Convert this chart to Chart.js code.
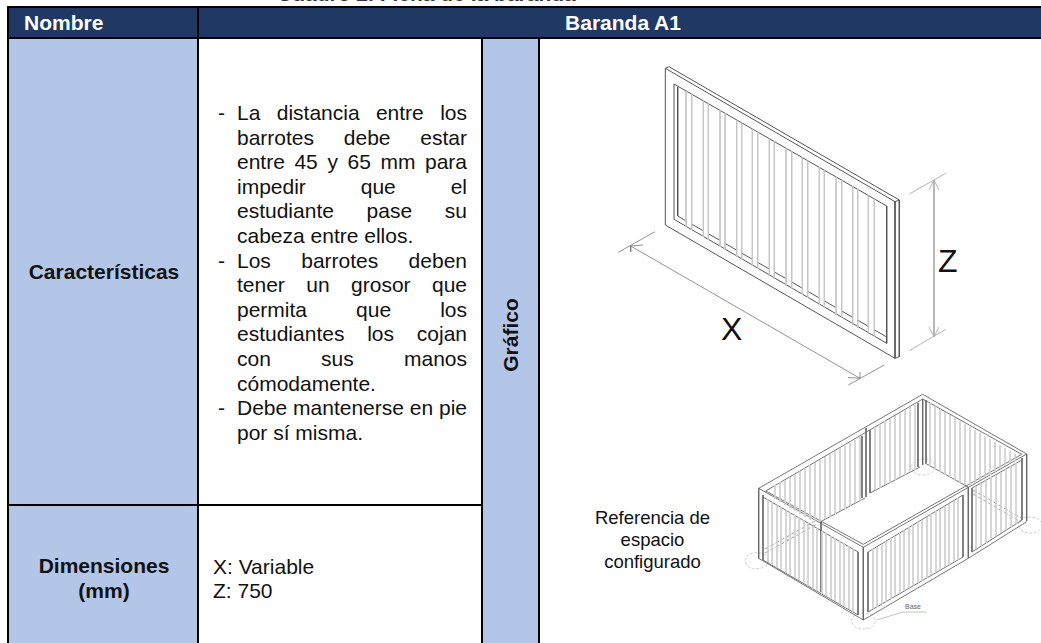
<!DOCTYPE html>
<html lang="es">
<head>
<meta charset="utf-8">
<title>Baranda A1</title>
<script src="https://cdn.jsdelivr.net/npm/chart.js@4"></script>
<style>
  html, body { margin: 0; padding: 0; background: #fff; }
  body { width: 1041px; height: 643px; overflow: hidden; position: relative; font-family: "Liberation Sans", Arial, sans-serif; color: #111; }
  .cell { position: absolute; box-sizing: border-box; }
  .navy { background: #1f3864; }
  .blue { background: #b4c6e7; }
  .rule { position: absolute; background: #000; }
  .line { position: absolute; left: 237px; width: 230px; font-size: 21px; line-height: 24px; text-align: justify; text-align-last: justify; white-space: nowrap; }
  .line.last { text-align-last: left; }
  .dash { position: absolute; left: 218px; font-size: 21px; line-height: 24px; }
  .label { position: absolute; white-space: nowrap; }
  #wrap { position: absolute; left: 0; top: 0; width: 1041px; height: 643px; pointer-events: none; }
</style>
</head>
<body>
<div class="label" style="left:277px;top:-18px;font-size:21px;line-height:24px;font-weight:bold;color:#333">Cuadro 2. Ficha de la baranda</div>

<div class="cell navy" style="left:8px;top:7px;width:1033px;height:31px"></div>
<div class="cell blue" style="left:8px;top:38px;width:190px;height:605px"></div>
<div class="cell blue" style="left:482px;top:38px;width:57px;height:605px"></div>

<div class="rule" style="left:7px;top:6px;width:1034px;height:2px"></div>
<div class="rule" style="left:7px;top:37px;width:1034px;height:2px"></div>
<div class="rule" style="left:7px;top:6px;width:2px;height:637px"></div>
<div class="rule" style="left:197px;top:6px;width:2px;height:637px"></div>
<div class="rule" style="left:481px;top:37px;width:2px;height:606px"></div>
<div class="rule" style="left:538px;top:37px;width:2px;height:606px"></div>
<div class="rule" style="left:7px;top:504px;width:475px;height:2px"></div>

<div class="label" style="left:24px;top:11px;font-size:21px;line-height:24px;font-weight:bold;color:#fff">Nombre</div>
<div class="label" style="left:199px;width:848px;text-align:center;top:11px;font-size:21px;line-height:24px;font-weight:bold;color:#fff">Baranda A1</div>
<div class="label" style="left:9px;width:190px;text-align:center;top:260px;font-size:21px;line-height:24px;font-weight:bold">Características</div>
<div class="label" style="left:9px;width:190px;text-align:center;top:554px;font-size:21px;font-weight:bold;line-height:24.6px;white-space:normal">Dimensiones<br>(mm)</div>
<div class="label" style="left:511px;top:335px;font-size:21px;font-weight:bold;transform:translate(-50%,-50%) rotate(-90deg)">Gráfico</div>

<div id="bodyText"></div>

<div class="label" style="left:213px;top:555px;font-size:21px;line-height:24px">X: Variable<br>Z: 750</div>

<div class="label" style="left:590px;width:125px;text-align:center;top:507px;font-size:18.5px;line-height:22px">Referencia de<br>espacio<br>configurado</div>
<div class="label" style="left:721px;top:311px;font-size:32px;line-height:36px">X</div>
<div class="label" style="left:938px;top:243px;font-size:32px;line-height:36px">Z</div>
<div class="label" style="left:905px;top:603px;font-size:7px;line-height:8px;color:#666">Base</div>

<div id="wrap"><canvas id="drawing"></canvas></div>

<script>
// Text of the characteristics cell, one entry per printed line
const bodyLines = [
  "La distancia entre los", "barrotes debe estar", "entre 45 y 65 mm para", "impedir que el",
  "estudiante pase su", "cabeza entre ellos.", "Los barrotes deben", "tener un grosor que",
  "permita que los", "estudiantes los cojan", "con sus manos", "cómodamente.",
  "Debe mantenerse en pie", "por sí misma."
];
const bodyLineY = [101, 125.6, 150.2, 174.8, 199.4, 224, 248.6, 273.2, 297.8, 322.4, 347, 371.6, 396.2, 420.8];
const lastLines = [5, 11, 13];
const dashLines = [0, 6, 12];

// Panel A1, reading the drawing in reference units (x right, y down)
const panelOutline = [
  [[665.3,68.3],[895,201.7],[895,358.3],[665.3,225],[665.3,68.3]],
  [[665.3,68.3],[669,66.7],[899.3,200],[899.3,356.7],[895,358.3]],
  [[895,201.7],[899.3,200]],
  [[674,84],[886.7,206],[886.7,343.3],[674,219.3],[674,84]],
  [[677.7,87],[677.7,216]],
  [[677.7,216],[686,220.8]], [[691.7,224.1],[703.3,230.8]], [[708.3,233.7],[720,240.5]],
  [[725,243.4],[736.7,250.2]], [[741.7,253.1],[752.3,259.2]], [[757.7,262.4],[769.3,269]],
  [[774.3,272],[786,278.7]], [[791.7,282],[802.3,288.2]], [[807.7,291.3],[819.3,298]],
  [[824.3,300.9],[836,307.7]], [[841.7,311],[852.7,317.3]], [[857.7,320.2],[868.3,326.3]],
  [[874.3,329.8],[886.7,337]]
];
const panelBarX = [686,691.7,703.3,708.3,720,725,736.7,741.7,752.3,757.7,769.3,774.3,786,791.7,802.3,807.7,819.3,824.3,836,841.7,852.7,857.7,868.3,874.3];
const panelBarTop = [90.9,94.2,100.8,103.7,110.4,113.3,120,122.8,128.9,132,138.7,141.5,148.3,151.5,157.6,160.7,167.4,170.2,176.9,180.2,186.5,189.4,195.5,199];
const panelBarBottom = [227,230,237,240,247,250,257,260,266,269,276,279,286,289,295,298,305,308,315,318,325,328,334,337];

const dimensionLines = [
  [[630.7,246],[860,378.3]], [[618.3,252.3],[655,231.7]], [[848.3,385],[884.3,365]],
  [[630.7,246],[643,245]], [[630.7,246],[630.7,252]],
  [[860,378.3],[860,372]], [[860,378.3],[848,377.5]]
];
const heightLines = [
  [[934,180],[934,336.7]], [[909.3,194],[945.7,173.3]], [[909.3,350.7],[945.7,329.3]],
  [[934,180],[929,190]], [[934,180],[939,190]], [[934,336.7],[929,327]], [[934,336.7],[939,327]]
];

// Assembled enclosure
const roomFrame = [
  [[758.7,488.3],[922.7,394.3],[1026.7,454],[863.3,547.3],[758.7,488.3]],
  [[765.7,491],[922.7,399],[1021.7,454.3],[863.3,544.3],[765.7,491]],
  [[758.7,558.3],[863.3,620],[968.3,558.3],[1026.7,521.7]],
  [[763,560],[858,615]], [[868,612],[963,557]], [[972,552],[1022,520]],
  [[763,497],[858,552]], [[868,552],[963,495]], [[972,488],[1022,460]],
  [[758.7,488.3],[758.7,558.3]], [[763,495],[763,560]],
  [[863.3,547.3],[863.3,620]], [[858,552],[858,615]], [[868,552],[868,612]],
  [[968.3,487],[968.3,558]], [[963,495],[963,557]], [[972,488],[972,552]],
  [[1026.7,454],[1026.7,521]], [[1022,458],[1022,520]],
  [[821,521],[821,592]], [[862,436],[862,498]], [[866,428],[866,497]], [[870,430],[870,493]],
  [[918,403],[918,467]], [[922.7,399],[922.7,465]], [[926,400],[926,463]],
  [[820,522],[865,498]], [[870,493],[920,467]], [[925,463],[968,487]]
];
const roomBarX = [
  768,772,777,781,786,790,795,799,804,808,813,817,822,826,831,835,840,844,849,853,
  873,877,882,886,891,895,900,904,909,913,918,922,927,931,936,940,945,949,954,958,
  976,981,986,991,996,1001,1006,1011,1016,
  775,780,785,790,795,800,805,810,815,820,825,830,835,840,845,850,855,860,
  875,880,885,890,895,900,905,910,915,
  930,935,940,945,950,955,960,965,970,975,980,985,990,995,1000,1005,1010,1015
];
const roomBarTop = [
  499,502,505,507,510,512,515,517,520,523,526,528,531,533,536,538,541,543,546,549,
  549,547,544,541,538,536,533,530,527,525,522,520,517,514,511,509,506,504,501,498,
  486,483,480,477,475,472,469,466,463,
  485,482,480,477,474,471,468,465,463,460,457,454,451,448,446,443,440,437,
  427,424,421,419,416,413,410,407,405,
  403,406,409,412,415,418,421,424,427,430,433,436,439,442,445,448,451,454
];
const roomBarBottom = [
  562,565,568,570,573,575,578,580,583,586,589,591,594,596,599,601,604,606,609,612,
  609,607,604,602,599,596,593,591,588,586,583,581,578,575,572,570,567,565,562,560,
  549,546,543,539,536,533,530,527,524,
  499,502,505,508,511,514,517,520,522,522,519,517,514,511,509,506,503,501,
  490,488,485,483,480,477,475,472,470,
  466,469,472,475,477,480,483,485,486,483,480,477,475,472,469,466,463,461
];
const hiddenRails = [
  [[765,549],[817,520]], [[765,553],[817,524]],
  [[973,490],[1021,518]], [[973,494],[1021,522]]
];
const leaderLine = [[[876.7,620],[903,612],[926.7,612]]];

// Bases under the corners: centres plus one shared outline
const ringCentres = [[756.7,560.7],[863.3,621],[923,467],[1030,525]];
const ringDx = [-12,-8.5,0,8.5,12,8.5,0,-8.5,-12];
const ringDy = [0,-5.7,-8,-5.7,0,5.7,8,5.7,0];

// Text cell lines
const textHost = document.getElementById("bodyText");
bodyLines.forEach((text, i) => {
  const el = document.createElement("div");
  el.className = "line" + (lastLines.includes(i) ? " last" : "");
  el.style.top = bodyLineY[i] + "px";
  el.textContent = text;
  textHost.appendChild(el);
  if (dashLines.includes(i)) {
    const d = document.createElement("div");
    d.className = "dash";
    d.style.top = bodyLineY[i] + "px";
    d.textContent = "-";
    textHost.appendChild(d);
  }
});

// Polylines to one dataset, with gaps between them
function toPoints(polylines) {
  const pts = [];
  polylines.forEach(line => {
    line.forEach(p => pts.push({ x: p[0], y: p[1] }));
    pts.push({ x: null, y: null });
  });
  return pts;
}

function barLines(xs, tops, bottoms) {
  return xs.map((x, i) => [[x, tops[i]], [x, bottoms[i]]]);
}

function stroke(polylines, color, width, extra) {
  return Object.assign({
    data: toPoints(polylines),
    showLine: true,
    spanGaps: false,
    borderColor: color,
    borderWidth: width,
    pointRadius: 0,
    fill: false
  }, extra || {});
}

const rings = ringCentres.map(c => ringDx.map((dx, i) => [c[0] + dx, c[1] + ringDy[i]]));

new Chart(document.getElementById("drawing"), {
  type: "scatter",
  data: {
    datasets: [
      stroke(barLines(panelBarX, panelBarTop, panelBarBottom), "#c6c6c6", 1),
      stroke(panelOutline, "#555", 1),
      stroke(dimensionLines, "#777", 0.8),
      stroke(heightLines, "#aaa", 0.9),
      stroke(barLines(roomBarX, roomBarTop, roomBarBottom), "#cfcfcf", 0.9),
      stroke(hiddenRails, "#888", 0.8, { borderDash: [4, 2] }),
      stroke(roomFrame, "#666", 0.9),
      stroke(leaderLine, "#aaa", 0.7),
      stroke(rings, "#bdbdbd", 0.7, { borderDash: [3, 1.5], tension: 0.4 })
    ]
  },
  options: {
    responsive: true,
    maintainAspectRatio: false,
    animation: false,
    layout: { padding: 0 },
    plugins: { legend: { display: false }, tooltip: { enabled: false }, title: { display: false } },
    scales: {
      x: { type: "linear", display: false, min: 0, max: 1041 },
      y: { type: "linear", display: false, min: 0, max: 643, reverse: true }
    }
  }
});
</script>
</body>
</html>
